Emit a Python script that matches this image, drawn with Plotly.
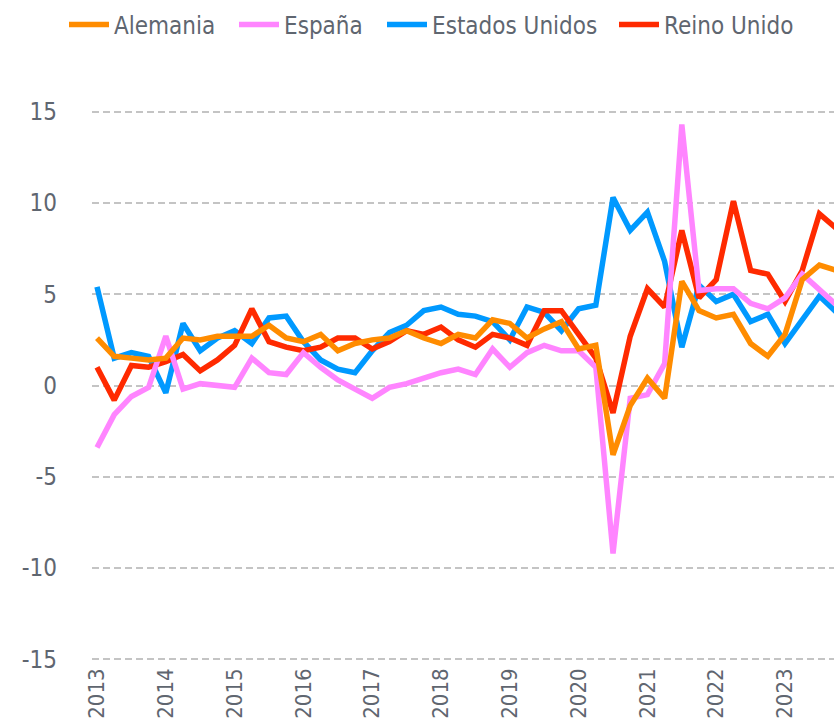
import plotly.graph_objects as go

years = [2013, 2014, 2015, 2016, 2017, 2018, 2019, 2020, 2021, 2022, 2023]
quarters = [y + q * 0.25 for y in years for q in range(4)]

alemania = [2.6, 1.6, 1.5, 1.4, 1.5, 2.6, 2.5, 2.7, 2.7, 2.7, 3.3, 2.6,
            2.4, 2.8, 1.9, 2.3, 2.5, 2.6, 3.0, 2.6, 2.3, 2.8, 2.6, 3.6,
            3.4, 2.6, 3.1, 3.5, 2.0, 2.2, -3.8, -1.1, 0.4, -0.7, 5.7, 4.1,
            3.7, 3.9, 2.3, 1.6, 2.8, 5.8, 6.6, 6.3]
espana = [-3.4, -1.6, -0.6, -0.1, 2.7, -0.2, 0.1, 0.0, -0.1, 1.5, 0.7, 0.6,
          1.8, 1.0, 0.3, -0.2, -0.7, -0.1, 0.1, 0.4, 0.7, 0.9, 0.6, 2.0,
          1.0, 1.8, 2.2, 1.9, 1.9, 1.0, -9.2, -0.7, -0.5, 1.2, 14.3, 5.2,
          5.3, 5.3, 4.5, 4.2, 4.8, 6.1, 5.2, 4.4]
estados_unidos = [5.4, 1.5, 1.8, 1.6, -0.4, 3.4, 1.9, 2.6, 3.0, 2.3, 3.7, 3.8,
                  2.4, 1.4, 0.9, 0.7, 1.9, 2.9, 3.3, 4.1, 4.3, 3.9, 3.8, 3.5,
                  2.5, 4.3, 4.0, 3.0, 4.2, 4.4, 10.3, 8.5, 9.5, 6.8, 2.1, 5.5,
                  4.6, 5.0, 3.5, 3.9, 2.3, 3.6, 4.9, 4.0]
reino_unido = [1.0, -0.8, 1.1, 1.0, 1.3, 1.7, 0.8, 1.4, 2.2, 4.2, 2.4, 2.1,
               1.9, 2.1, 2.6, 2.6, 2.0, 2.4, 3.0, 2.8, 3.2, 2.5, 2.1, 2.8,
               2.6, 2.2, 4.1, 4.1, 2.8, 1.5, -1.5, 2.7, 5.3, 4.3, 8.5, 4.8,
               5.8, 10.1, 6.3, 6.1, 4.6, 6.3, 9.4, 8.6]

y_ticks = [15, 10, 5, 0, -5, -10, -15]

# (name, values, colour, legend id, legend x in container px)
series = [
    ("Estados Unidos", estados_unidos, "#0099FF", "legend3", 382),
    ("Reino Unido", reino_unido, "#FF2A00", "legend4", 614),
    ("España", espana, "#FF85FF", "legend2", 234),
    ("Alemania", alemania, "#FF8C00", "legend", 64),
]

FONT = "DejaVu Sans Condensed, Liberation Sans Narrow, sans-serif"
TXT = "#5f6670"
W, H = 834, 726

fig = go.Figure()
legends = {}
for name, vals, color, leg, lx in series:
    fig.add_trace(go.Scatter(
        x=quarters, y=vals, name=name, mode="lines",
        line=dict(color=color, width=5.5),
        legend=leg,
    ))
    legends[leg] = dict(orientation="h", xref="container", yref="container",
                        x=lx / W, xanchor="left", y=1 - 25 / H, yanchor="middle",
                        font=dict(size=24, color=TXT), itemwidth=40,
                        bgcolor="rgba(0,0,0,0)")

fig.update_layout(
    width=W, height=H,
    margin=dict(l=92, r=0, t=108, b=63),
    paper_bgcolor="white", plot_bgcolor="white",
    font=dict(family=FONT, size=24, color=TXT),
    showlegend=True,
    xaxis=dict(range=[2012.927, 2023.712], tickmode="array", tickvals=years,
               ticktext=[str(y) for y in years], tickangle=-90,
               tickfont=dict(size=22),
               showgrid=False, zeroline=False, showline=False, ticks="",
               automargin=False, fixedrange=True),
    yaxis=dict(range=[-15.2, 15.2], tickmode="array", tickvals=y_ticks,
               ticktext=[str(v) for v in y_ticks],
               showgrid=True, gridcolor="#c4c4c4", gridwidth=1.5, griddash="7px,4px",
               zeroline=False, showline=False, ticks="",
               ticklabelstandoff=34, automargin=False, fixedrange=True),
    **legends,
)

fig.write_html("out.html", config={"displayModeBar": False},
               post_script="document.body.style.margin='0';")
